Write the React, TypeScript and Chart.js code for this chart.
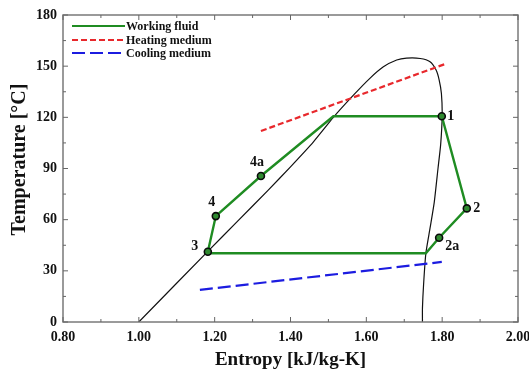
import React, { useEffect, useRef } from "react";
import { Chart, registerables } from "chart.js";

Chart.register(...registerables);

// Working fluid cycle path: 3 -> 4 -> 4a -> (sat. liquid) -> 1 -> 2 -> 2a -> (sat. vapour) -> 3
const fluidS = [1.182, 1.203, 1.322, 1.513, 1.799, 1.865, 1.792, 1.757, 1.182];
const fluidT = [41.2, 62.1, 85.6, 120.6, 120.6, 66.6, 49.4, 40.3, 40.3];
const fluidLabels = ["3", "4", "4a", "", "1", "2", "2a", "", ""];
const fluidMarker = [true, true, true, false, true, true, true, false, false];

const heatS = [1.322, 1.807];
const heatT = [112, 151.2];

const coolS = [1.161, 1.799];
const coolT = [18.8, 35.2];

const domeS = [1.0, 1.18, 1.26, 1.34, 1.40, 1.46, 1.513, 1.566, 1.61, 1.645, 1.68, 1.706, 1.742, 1.768, 1.784, 1.792, 1.798, 1.8, 1.796, 1.789, 1.779, 1.768, 1.757, 1.751, 1.748, 1.748];
const domeT = [0, 41, 59, 77, 91, 105.5, 120, 133, 143, 149.6, 153.6, 154.7, 154.5, 152.6, 147.7, 142, 134, 121, 104, 90, 70, 55, 40.3, 22, 8, 0];

const xTicks = [0.8, 1.0, 1.2, 1.4, 1.6, 1.8, 2.0];
const yTicks = [0, 30, 60, 90, 120, 150, 180];

const seriesNames = ["Working fluid", "Heating medium", "Cooling medium"];
const yTitle = "Temperature [°C]";
const xTitle = "Entropy [kJ/kg-K]";

const zip = (xs: number[], ys: number[]) => xs.map((x, i) => ({ x, y: ys[i] }));

const SERIF = "'Liberation Serif', 'Times New Roman', serif";
const GREEN = "#1f8c22";
const RED = "#e8282c";
const BLUE = "#1c1ce0";

const framePlugin = {
  id: "frameAndExtras",
  afterDraw(chart: any) {
    const ctx = chart.ctx;
    const { left, right, top, bottom } = chart.chartArea;
    const xs = chart.scales.x;
    const ys = chart.scales.y;
    ctx.save();
    // frame
    ctx.strokeStyle = "#7a7a7a";
    ctx.lineWidth = 1.5;
    ctx.strokeRect(left, top, right - left, bottom - top);
    // inner ticks
    ctx.lineWidth = 1;
    ctx.strokeStyle = "#666";
    for (let k = 0; k <= 12; k++) {
      const v = 0.8 + k * 0.1;
      const px = xs.getPixelForValue(v);
      const len = k % 2 === 0 ? 5 : 3;
      ctx.beginPath();
      ctx.moveTo(px, bottom);
      ctx.lineTo(px, bottom - len);
      ctx.moveTo(px, top);
      ctx.lineTo(px, top + len);
      ctx.stroke();
    }
    for (let k = 0; k <= 12; k++) {
      const v = k * 15;
      const py = ys.getPixelForValue(v);
      const len = k % 2 === 0 ? 5 : 3;
      ctx.beginPath();
      ctx.moveTo(left, py);
      ctx.lineTo(left + len, py);
      ctx.moveTo(right, py);
      ctx.lineTo(right - len, py);
      ctx.stroke();
    }
    // y axis title
    ctx.save();
    ctx.fillStyle = "#111";
    ctx.font = `bold 20px ${SERIF}`;
    ctx.textAlign = "center";
    ctx.textBaseline = "middle";
    ctx.translate(20, (top + bottom) / 2 - 9);
    ctx.rotate(-Math.PI / 2);
    ctx.fillText(yTitle, 0, 0);
    ctx.restore();
    // point labels
    ctx.fillStyle = "#111";
    ctx.font = `bold 14px ${SERIF}`;
    ctx.textAlign = "center";
    ctx.textBaseline = "middle";
    const offs: Record<string, [number, number]> = {
      "1": [9, 0],
      "2": [10, 0],
      "2a": [13, 9],
      "3": [-13, -5],
      "4": [-4, -14],
      "4a": [-4, -14],
    };
    fluidLabels.forEach((lab, i) => {
      if (!lab) return;
      const px = xs.getPixelForValue(fluidS[i]);
      const py = ys.getPixelForValue(fluidT[i]);
      const o = offs[lab] || [0, 0];
      ctx.fillText(lab, px + o[0], py + o[1]);
    });
    // legend inside plot
    const rowsY = [26, 40, 53];
    ctx.textAlign = "left";
    ctx.font = `bold 12px ${SERIF}`;
    chart.data.datasets.forEach((ds: any, i: number) => {
      if (i >= seriesNames.length) return;
      const y = rowsY[i];
      ctx.save();
      ctx.strokeStyle = ds.borderColor;
      ctx.lineWidth = 2.2;
      ctx.setLineDash(ds.borderDash || []);
      ctx.beginPath();
      ctx.moveTo(left + 9, y);
      ctx.lineTo(left + 62, y);
      ctx.stroke();
      ctx.restore();
      ctx.fillStyle = "#111";
      ctx.fillText(ds.label, left + 63, y + 1);
    });
    ctx.restore();
  },
};

export default function App() {
  const ref = useRef<HTMLCanvasElement>(null);
  useEffect(() => {
    document.body.style.margin = "0";
    const chart = new Chart(ref.current as HTMLCanvasElement, {
      type: "scatter",
      data: {
        datasets: [
          {
            label: seriesNames[0],
            data: zip(fluidS, fluidT),
            showLine: true,
            borderColor: GREEN,
            borderWidth: 2.4,
            tension: 0,
            pointRadius: fluidMarker.map((m) => (m ? 3.5 : 0)),
            pointBackgroundColor: "#2f8a30",
            pointBorderColor: "#0a0a0a",
            pointBorderWidth: 1.6,
          },
          {
            label: seriesNames[1],
            data: zip(heatS, heatT),
            showLine: true,
            borderColor: RED,
            borderWidth: 2.2,
            borderDash: [6, 3],
            pointRadius: 0,
          },
          {
            label: seriesNames[2],
            data: zip(coolS, coolT),
            showLine: true,
            borderColor: BLUE,
            borderWidth: 2.2,
            borderDash: [13, 5],
            pointRadius: 0,
          },
          {
            label: "Saturation dome",
            data: zip(domeS, domeT),
            showLine: true,
            borderColor: "#111",
            borderWidth: 1.2,
            tension: 0.2,
            pointRadius: 0,
          },
        ],
      },
      options: {
        animation: false,
        responsive: false,
        layout: { padding: { top: 15, right: 11, left: 0, bottom: 0 } },
        plugins: {
          legend: { display: false },
          tooltip: { enabled: false },
        },
        scales: {
          x: {
            type: "linear",
            min: 0.8,
            max: 2.0,
            afterFit: (s: any) => {
              s.height = 51;
              s.paddingLeft = 0;
              s.paddingRight = 0;
            },
            afterBuildTicks: (s: any) => {
              s.ticks = xTicks.map((v) => ({ value: v }));
            },
            grid: { display: false, drawTicks: false, tickLength: 0 },
            border: { display: false },
            ticks: {
              padding: 7,
              color: "#111",
              font: { family: SERIF, size: 14, weight: "bold" },
              callback: (v: any) => Number(v).toFixed(2),
            },
            title: {
              display: true,
              text: xTitle,
              color: "#111",
              font: { family: SERIF, size: 19, weight: "bold" },
              padding: { top: 0, bottom: 2 },
            },
          },
          y: {
            type: "linear",
            min: 0,
            max: 180,
            afterFit: (s: any) => {
              s.width = 63;
              s.paddingTop = 0;
              s.paddingBottom = 0;
            },
            afterBuildTicks: (s: any) => {
              s.ticks = yTicks.map((v) => ({ value: v }));
            },
            grid: { display: false, drawTicks: false, tickLength: 0 },
            border: { display: false },
            ticks: {
              padding: 6,
              color: "#111",
              font: { family: SERIF, size: 14, weight: "bold" },
              callback: (v: any) => String(v),
            },
            title: { display: false },
          },
        },
      },
      plugins: [framePlugin],
    } as any);
    return () => chart.destroy();
  }, []);
  return <canvas ref={ref} width={529} height={373} />;
}
